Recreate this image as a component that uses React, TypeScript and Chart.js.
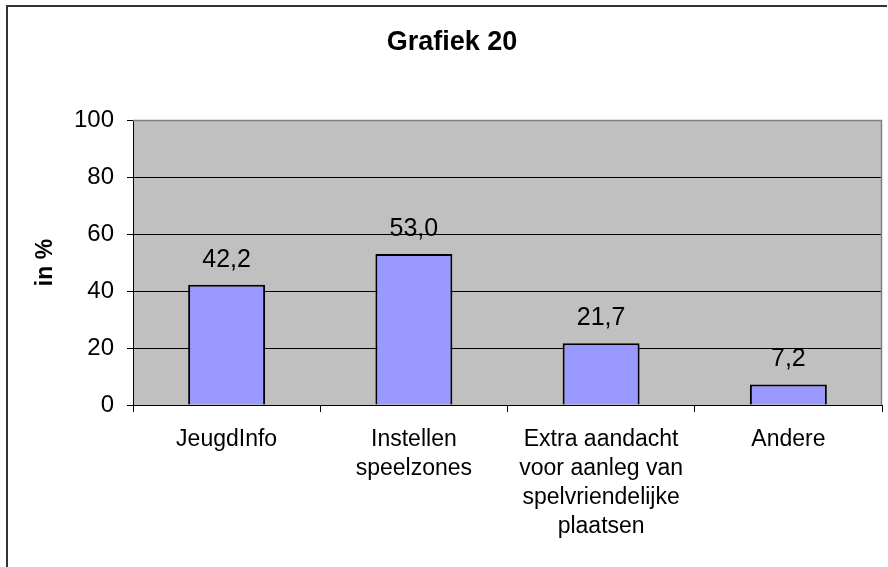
import React, { useEffect, useRef } from "react";
import { Chart, registerables } from "chart.js";

Chart.register(...registerables);

const chartTitle = "Grafiek 20";
const yAxisTitle = "in %";
const categories: string[][] = [
  ["JeugdInfo"],
  ["Instellen", "speelzones"],
  ["Extra aandacht", "voor aanleg van", "spelvriendelijke", "plaatsen"],
  ["Andere"],
];
const values: number[] = [42.2, 53.0, 21.7, 7.2];
const yTicks: number[] = [0, 20, 40, 60, 80, 100];

const FONT = "'Liberation Sans', Arial, Helvetica, sans-serif";

const plotBgPlugin = {
  id: "plotBg",
  beforeDraw(chart: any) {
    const { ctx, chartArea } = chart;
    ctx.save();
    ctx.fillStyle = "#ffffff";
    ctx.fillRect(0, 0, chart.width, chart.height);
    ctx.fillStyle = "#C0C0C0";
    ctx.fillRect(chartArea.left, chartArea.top, chartArea.right - chartArea.left, chartArea.bottom - chartArea.top);
    // outer frame (left and top visible)
    ctx.strokeStyle = "#333333";
    ctx.lineWidth = 2;
    ctx.beginPath();
    ctx.moveTo(7, chart.height + 2);
    ctx.lineTo(7, 6);
    ctx.lineTo(887, 6);
    ctx.stroke();
    ctx.restore();
  },
  beforeDatasetsDraw(chart: any) {
    const { ctx, chartArea } = chart;
    ctx.save();
    ctx.strokeStyle = "#808080";
    ctx.lineWidth = 1.5;
    ctx.beginPath();
    ctx.moveTo(chartArea.left, chartArea.top + 0.5);
    ctx.lineTo(chartArea.right - 0.5, chartArea.top + 0.5);
    ctx.lineTo(chartArea.right - 0.5, chartArea.bottom);
    ctx.stroke();
    ctx.restore();
  },
};

const dataLabelPlugin = {
  id: "dataLabels",
  afterDatasetsDraw(chart: any) {
    const { ctx } = chart;
    const meta = chart.getDatasetMeta(0);
    ctx.save();
    ctx.fillStyle = "#000000";
    ctx.font = `25px ${FONT}`;
    ctx.textAlign = "center";
    ctx.textBaseline = "middle";
    meta.data.forEach((bar: any, i: number) => {
      const v = values[i];
      ctx.fillText(v.toFixed(1).replace(".", ","), bar.x, bar.y - 25);
    });
    ctx.restore();
  },
};

export default function App() {
  const canvasRef = useRef<HTMLCanvasElement | null>(null);

  useEffect(() => {
    document.body.style.margin = "0";
    const canvas = canvasRef.current;
    if (!canvas) return;
    const chart = new Chart(canvas, {
      type: "bar",
      data: {
        labels: categories,
        datasets: [
          {
            data: values,
            backgroundColor: "#9999FF",
            borderColor: "#000000",
            borderWidth: 2,
            barPercentage: 0.411,
            categoryPercentage: 1,
          },
        ],
      },
      options: {
        responsive: false,
        animation: false,
        layout: { padding: { left: 22, right: 6, top: 0, bottom: 0 } },
        plugins: {
          legend: { display: false },
          tooltip: { enabled: false },
          title: {
            display: true,
            text: chartTitle,
            color: "#000000",
            font: { family: FONT, size: 27, weight: "bold", lineHeight: 1.2 },
            padding: { top: 26, bottom: 61.6 },
          },
        },
        scales: {
          x: {
            grid: {
              display: true,
              drawOnChartArea: false,
              drawTicks: true,
              tickLength: 7,
              color: "#000000",
              offset: true,
            },
            border: { color: "#000000", width: 1 },
            ticks: {
              color: "#000000",
              font: { family: FONT, size: 23, lineHeight: 1.26 },
              padding: 13,
              maxRotation: 0,
              autoSkip: false,
            },
            afterFit: (s: any) => {
              s.height = 162;
            },
          },
          y: {
            min: 0,
            max: 100,
            afterBuildTicks: (s: any) => {
              s.ticks = yTicks.map((v) => ({ value: v }));
            },
            grid: {
              color: (c: any) => (c.tick && c.tick.value === 100 ? "#808080" : "#000000"),
              tickColor: "#000000",
              tickLength: 6,
              lineWidth: 1,
            },
            border: { color: "#000000", width: 1 },
            ticks: {
              color: "#000000",
              font: { family: FONT, size: 24 },
              padding: 13,
            },
            title: {
              display: true,
              text: yAxisTitle,
              color: "#000000",
              font: { family: FONT, size: 23, weight: "bold", lineHeight: 1.2 },
              padding: { top: 10, bottom: 0 },
            },
            afterFit: (s: any) => {
              s.width = 111;
            },
          },
        },
      } as any,
      plugins: [plotBgPlugin, dataLabelPlugin],
    });
    return () => chart.destroy();
  }, []);

  return (
    <div style={{ width: 888, height: 567 }}>
      <canvas ref={canvasRef} width={888} height={567} style={{ display: "block" }} />
    </div>
  );
}
